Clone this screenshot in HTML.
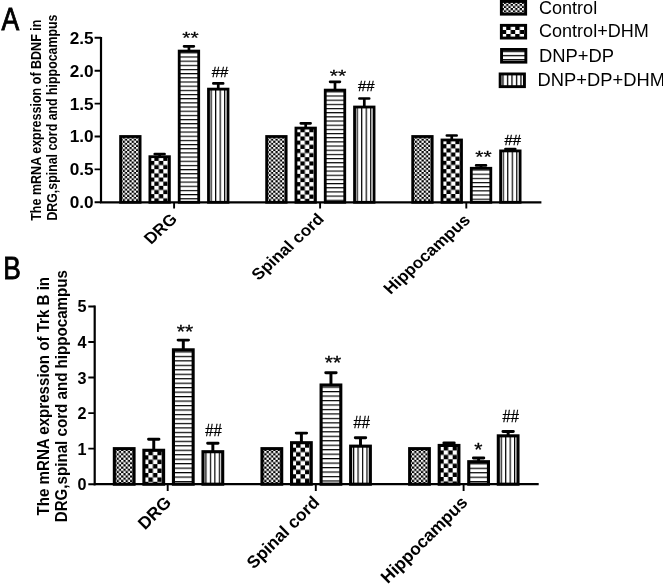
<!DOCTYPE html>
<html><head><meta charset="utf-8"><title>Figure</title>
<style>html,body{margin:0;padding:0;background:#fff;}body{width:663px;height:584px;overflow:hidden;font-family:"Liberation Sans",sans-serif;}svg{display:block;filter:grayscale(1);}text{font-family:"Liberation Sans",sans-serif;fill:#000;}</style>
</head><body>
<svg width="663" height="584" viewBox="0 0 663 584">
<rect x="0" y="0" width="663" height="584" fill="#fff"/>
<defs>
<pattern id="aF" patternUnits="userSpaceOnUse" x="3.5" y="3.55" width="4.47" height="4.16"><rect width="4.47" height="4.16" fill="#fff"/><rect x="2.23" y="0" width="2.23" height="2.08" fill="#000"/><rect x="0" y="2.08" width="2.23" height="2.08" fill="#000"/></pattern>
<pattern id="aB" patternUnits="userSpaceOnUse" x="5.85" y="5.6" width="8.94" height="8.31"><rect width="8.94" height="8.31" fill="#fff"/><rect x="4.47" y="0" width="4.47" height="4.16" fill="#000"/><rect x="0" y="4.16" width="4.47" height="4.16" fill="#000"/></pattern>
<pattern id="aH" patternUnits="userSpaceOnUse" x="0" y="2.58" width="20" height="4.17"><rect width="20" height="4.17" fill="#fff"/><rect x="0" y="0" width="20" height="1.15" fill="#000"/></pattern>
<pattern id="aV" patternUnits="userSpaceOnUse" x="3.45" y="0" width="4.52" height="20"><rect width="4.52" height="20" fill="#fff"/><rect x="0" y="0" width="1.2" height="20" fill="#000"/></pattern>
<pattern id="bF" patternUnits="userSpaceOnUse" x="3.85" y="3.85" width="4.48" height="4.44"><rect width="4.48" height="4.44" fill="#fff"/><rect x="2.24" y="0" width="2.24" height="2.22" fill="#000"/><rect x="0" y="2.22" width="2.24" height="2.22" fill="#000"/></pattern>
<pattern id="bB" patternUnits="userSpaceOnUse" x="6.06" y="6.54" width="8.98" height="8.84"><rect width="8.98" height="8.84" fill="#fff"/><rect x="4.49" y="0" width="4.49" height="4.42" fill="#000"/><rect x="0" y="4.42" width="4.49" height="4.42" fill="#000"/></pattern>
<pattern id="bH" patternUnits="userSpaceOnUse" x="0" y="3.07" width="20" height="4.47"><rect width="20" height="4.47" fill="#fff"/><rect x="0" y="0" width="20" height="1.2" fill="#000"/></pattern>
<pattern id="bV" patternUnits="userSpaceOnUse" x="3.9" y="0" width="4.47" height="20"><rect width="4.47" height="20" fill="#fff"/><rect x="0" y="0" width="1.2" height="20" fill="#000"/></pattern>
<pattern id="lF" patternUnits="userSpaceOnUse" x="503.9" y="3.85" width="4.5" height="4.24"><rect width="4.5" height="4.24" fill="#fff"/><rect x="2.25" y="0" width="2.25" height="2.12" fill="#000"/><rect x="0" y="2.12" width="2.25" height="2.12" fill="#000"/></pattern>
<pattern id="lB" patternUnits="userSpaceOnUse" x="506.2" y="30" width="9" height="8"><rect width="9" height="8" fill="#fff"/><rect x="4.5" y="0" width="4.5" height="4" fill="#000"/><rect x="0" y="4" width="4.5" height="4" fill="#000"/></pattern>
<pattern id="lH" patternUnits="userSpaceOnUse" x="0" y="54.85" width="20" height="4.1"><rect width="20" height="4.1" fill="#fff"/><rect x="0" y="0" width="20" height="1.3" fill="#000"/></pattern>
<pattern id="lV" patternUnits="userSpaceOnUse" x="506.85" y="0" width="4.5" height="20"><rect width="4.5" height="20" fill="#fff"/><rect x="0" y="0" width="1.3" height="20" fill="#000"/></pattern>
</defs>
<g transform="translate(119.2 135.1)"><rect x="1.4" y="1.4" width="19.5" height="65.8" fill="url(#aF)" stroke="#000" stroke-width="2.8"/></g>
<path d="M159.65 156.7V154M154.75 154H164.55" stroke="#000" stroke-width="2.7" stroke-linecap="round" fill="none"/>
<g transform="translate(148.5 155.3)"><rect x="1.4" y="1.4" width="19.5" height="45.6" fill="url(#aB)" stroke="#000" stroke-width="2.8"/></g>
<path d="M188.95 51.09V46.3M184.05 46.3H193.85" stroke="#000" stroke-width="2.7" stroke-linecap="round" fill="none"/>
<g transform="translate(177.8 49.69)"><rect x="1.4" y="1.4" width="19.5" height="151.21" fill="url(#aH)" stroke="#000" stroke-width="2.8"/></g>
<path d="M218.25 89.12V83.4M213.35 83.4H223.15" stroke="#000" stroke-width="2.7" stroke-linecap="round" fill="none"/>
<g transform="translate(207.1 87.72)"><rect x="1.4" y="1.4" width="19.5" height="113.18" fill="url(#aV)" stroke="#000" stroke-width="2.8"/></g>
<g transform="translate(265.25 135.1)"><rect x="1.4" y="1.4" width="19.5" height="65.8" fill="url(#aF)" stroke="#000" stroke-width="2.8"/></g>
<path d="M305.7 128.08V123.3M300.8 123.3H310.6" stroke="#000" stroke-width="2.7" stroke-linecap="round" fill="none"/>
<g transform="translate(294.55 126.68)"><rect x="1.4" y="1.4" width="19.5" height="74.22" fill="url(#aB)" stroke="#000" stroke-width="2.8"/></g>
<path d="M335 90.11V81.8M330.1 81.8H339.9" stroke="#000" stroke-width="2.7" stroke-linecap="round" fill="none"/>
<g transform="translate(323.85 88.71)"><rect x="1.4" y="1.4" width="19.5" height="112.19" fill="url(#aH)" stroke="#000" stroke-width="2.8"/></g>
<path d="M364.3 107.02V98.5M359.4 98.5H369.2" stroke="#000" stroke-width="2.7" stroke-linecap="round" fill="none"/>
<g transform="translate(353.15 105.62)"><rect x="1.4" y="1.4" width="19.5" height="95.28" fill="url(#aV)" stroke="#000" stroke-width="2.8"/></g>
<g transform="translate(411.3 135.1)"><rect x="1.4" y="1.4" width="19.5" height="65.8" fill="url(#aF)" stroke="#000" stroke-width="2.8"/></g>
<path d="M451.75 139.99V135.5M446.85 135.5H456.65" stroke="#000" stroke-width="2.7" stroke-linecap="round" fill="none"/>
<g transform="translate(440.6 138.59)"><rect x="1.4" y="1.4" width="19.5" height="62.31" fill="url(#aB)" stroke="#000" stroke-width="2.8"/></g>
<path d="M481.05 168.28V165.4M476.15 165.4H485.95" stroke="#000" stroke-width="2.7" stroke-linecap="round" fill="none"/>
<g transform="translate(469.9 166.88)"><rect x="1.4" y="1.4" width="19.5" height="34.02" fill="url(#aH)" stroke="#000" stroke-width="2.8"/></g>
<path d="M510.35 150.91V149M505.45 149H515.25" stroke="#000" stroke-width="2.7" stroke-linecap="round" fill="none"/>
<g transform="translate(499.2 149.51)"><rect x="1.4" y="1.4" width="19.5" height="51.39" fill="url(#aV)" stroke="#000" stroke-width="2.8"/></g>
<path d="M101 36.9V203.5M99.9 202.3H541.4" stroke="#000" stroke-width="2.2" fill="none"/>
<path d="M94.6 202.3H101M94.6 169.4H101M94.6 136.5H101M94.6 103.6H101M94.6 70.7H101M94.6 37.8H101M174.1 202.3V208.6M320.1 202.3V208.6M466.3 202.3V208.6" stroke="#000" stroke-width="1.9" fill="none"/>
<text transform="translate(93.6 208.2) scale(1.05 1.0)" font-size="16.4" font-weight="bold" text-anchor="end">0.0</text>
<text transform="translate(93.6 175.3) scale(1.05 1.0)" font-size="16.4" font-weight="bold" text-anchor="end">0.5</text>
<text transform="translate(93.6 142.4) scale(1.05 1.0)" font-size="16.4" font-weight="bold" text-anchor="end">1.0</text>
<text transform="translate(93.6 109.5) scale(1.05 1.0)" font-size="16.4" font-weight="bold" text-anchor="end">1.5</text>
<text transform="translate(93.6 76.6) scale(1.05 1.0)" font-size="16.4" font-weight="bold" text-anchor="end">2.0</text>
<text transform="translate(93.6 43.7) scale(1.05 1.0)" font-size="16.4" font-weight="bold" text-anchor="end">2.5</text>
<text transform="translate(190.5 44.05) scale(1.08 0.85)" font-size="19.5" text-anchor="middle" stroke="#000" stroke-width="0.3">**</text>
<text transform="translate(220.1 77.2) scale(0.885 0.845)" font-size="16.8" text-anchor="middle" stroke="#000" stroke-width="0.3">##</text>
<text transform="translate(338 81.55) scale(1.08 0.85)" font-size="19.5" text-anchor="middle" stroke="#000" stroke-width="0.3">**</text>
<text transform="translate(366.2 91.2) scale(0.885 0.845)" font-size="16.8" text-anchor="middle" stroke="#000" stroke-width="0.3">##</text>
<text transform="translate(483.4 162.65) scale(1.08 0.85)" font-size="19.5" text-anchor="middle" stroke="#000" stroke-width="0.3">**</text>
<text transform="translate(512.7 144.8) scale(0.885 0.845)" font-size="16.8" text-anchor="middle" stroke="#000" stroke-width="0.3">##</text>
<text transform="translate(178.2 220.1) scale(1 0.915) rotate(-45)" font-size="17.3" font-weight="bold" text-anchor="end">DRG</text>
<text transform="translate(325.1 220) scale(1 0.915) rotate(-45)" font-size="17.3" font-weight="bold" text-anchor="end">Spinal cord</text>
<text transform="translate(471.3 221) scale(1 0.915) rotate(-45)" font-size="17.3" font-weight="bold" text-anchor="end">Hippocampus</text>
<text transform="translate(41.1 220.8) rotate(-90)" font-size="14.2" font-weight="bold" textLength="201.2" lengthAdjust="spacingAndGlyphs">The mRNA expression of BDNF in</text>
<text transform="translate(57.2 220.6) rotate(-90)" font-size="14.2" font-weight="bold" textLength="206" lengthAdjust="spacingAndGlyphs">DRG,spinal cord and hippocampus</text>
<g transform="translate(112.8 447.1)"><rect x="1.55" y="1.55" width="19.7" height="35.55" fill="url(#bF)" stroke="#000" stroke-width="3.1"/></g>
<path d="M153.75 450.29V439.3M148.55 439.3H158.95" stroke="#000" stroke-width="2.95" stroke-linecap="round" fill="none"/>
<g transform="translate(142.35 448.74)"><rect x="1.55" y="1.55" width="19.7" height="33.91" fill="url(#bB)" stroke="#000" stroke-width="3.1"/></g>
<path d="M183.3 349.82V340.1M178.1 340.1H188.5" stroke="#000" stroke-width="2.95" stroke-linecap="round" fill="none"/>
<g transform="translate(171.9 348.27)"><rect x="1.55" y="1.55" width="19.7" height="134.38" fill="url(#bH)" stroke="#000" stroke-width="3.1"/></g>
<path d="M212.85 451.71V443.2M207.65 443.2H218.05" stroke="#000" stroke-width="2.95" stroke-linecap="round" fill="none"/>
<g transform="translate(201.45 450.16)"><rect x="1.55" y="1.55" width="19.7" height="32.49" fill="url(#bV)" stroke="#000" stroke-width="3.1"/></g>
<g transform="translate(260.45 447.1)"><rect x="1.55" y="1.55" width="19.7" height="35.55" fill="url(#bF)" stroke="#000" stroke-width="3.1"/></g>
<path d="M301.4 442.71V433.1M296.2 433.1H306.6" stroke="#000" stroke-width="2.95" stroke-linecap="round" fill="none"/>
<g transform="translate(290 441.16)"><rect x="1.55" y="1.55" width="19.7" height="41.49" fill="url(#bB)" stroke="#000" stroke-width="3.1"/></g>
<path d="M330.95 385.02V372.8M325.75 372.8H336.15" stroke="#000" stroke-width="2.95" stroke-linecap="round" fill="none"/>
<g transform="translate(319.55 383.47)"><rect x="1.55" y="1.55" width="19.7" height="99.18" fill="url(#bH)" stroke="#000" stroke-width="3.1"/></g>
<path d="M360.5 446.16V437.8M355.3 437.8H365.7" stroke="#000" stroke-width="2.95" stroke-linecap="round" fill="none"/>
<g transform="translate(349.1 444.61)"><rect x="1.55" y="1.55" width="19.7" height="38.04" fill="url(#bV)" stroke="#000" stroke-width="3.1"/></g>
<g transform="translate(408.1 447.1)"><rect x="1.55" y="1.55" width="19.7" height="35.55" fill="url(#bF)" stroke="#000" stroke-width="3.1"/></g>
<path d="M449.05 445.45V443M443.85 443H454.25" stroke="#000" stroke-width="2.95" stroke-linecap="round" fill="none"/>
<g transform="translate(437.65 443.9)"><rect x="1.55" y="1.55" width="19.7" height="38.75" fill="url(#bB)" stroke="#000" stroke-width="3.1"/></g>
<path d="M478.6 461.7V458M473.4 458H483.8" stroke="#000" stroke-width="2.95" stroke-linecap="round" fill="none"/>
<g transform="translate(467.2 460.15)"><rect x="1.55" y="1.55" width="19.7" height="22.5" fill="url(#bH)" stroke="#000" stroke-width="3.1"/></g>
<path d="M508.15 435.85V431.4M502.95 431.4H513.35" stroke="#000" stroke-width="2.95" stroke-linecap="round" fill="none"/>
<g transform="translate(496.75 434.3)"><rect x="1.55" y="1.55" width="19.7" height="48.35" fill="url(#bV)" stroke="#000" stroke-width="3.1"/></g>
<path d="M94.7 305.55V485.4M93.6 484.2H538.7" stroke="#000" stroke-width="2.2" fill="none"/>
<path d="M88.3 484.2H94.7M88.3 448.65H94.7M88.3 413.1H94.7M88.3 377.55H94.7M88.3 342H94.7M88.3 306.45H94.7M167.7 484.2V491M315.8 484.2V491M463.6 484.2V491" stroke="#000" stroke-width="1.9" fill="none"/>
<text transform="translate(86.5 490.2) scale(1.0 1.0)" font-size="16.2" font-weight="bold" text-anchor="end">0</text>
<text transform="translate(86.5 454.65) scale(1.0 1.0)" font-size="16.2" font-weight="bold" text-anchor="end">1</text>
<text transform="translate(86.5 419.1) scale(1.0 1.0)" font-size="16.2" font-weight="bold" text-anchor="end">2</text>
<text transform="translate(86.5 383.55) scale(1.0 1.0)" font-size="16.2" font-weight="bold" text-anchor="end">3</text>
<text transform="translate(86.5 348) scale(1.0 1.0)" font-size="16.2" font-weight="bold" text-anchor="end">4</text>
<text transform="translate(86.5 312.45) scale(1.0 1.0)" font-size="16.2" font-weight="bold" text-anchor="end">5</text>
<text transform="translate(184.9 337.82) scale(1.08 0.93)" font-size="19.5" text-anchor="middle" stroke="#000" stroke-width="0.3">**</text>
<text transform="translate(213.5 435.7) scale(0.88 1.0)" font-size="16.8" text-anchor="middle" stroke="#000" stroke-width="0.3">##</text>
<text transform="translate(332.9 369.42) scale(1.08 0.93)" font-size="19.5" text-anchor="middle" stroke="#000" stroke-width="0.3">**</text>
<text transform="translate(361.65 427.7) scale(0.88 1.0)" font-size="16.8" text-anchor="middle" stroke="#000" stroke-width="0.3">##</text>
<text transform="translate(478.3 456.42) scale(1.08 0.93)" font-size="19.5" text-anchor="middle" stroke="#000" stroke-width="0.3">*</text>
<text transform="translate(510.75 421.5) scale(0.88 1.0)" font-size="16.8" text-anchor="middle" stroke="#000" stroke-width="0.3">##</text>
<text transform="translate(172.2 503.4) scale(1 1.0) rotate(-45)" font-size="17.3" font-weight="bold" text-anchor="end">DRG</text>
<text transform="translate(320.4 503.2) scale(1 1.0) rotate(-45)" font-size="17.3" font-weight="bold" text-anchor="end">Spinal cord</text>
<text transform="translate(468.6 503.4) scale(1 1.0) rotate(-45)" font-size="17.3" font-weight="bold" text-anchor="end">Hippocampus</text>
<text transform="translate(49.3 515.5) rotate(-90)" font-size="15.6" font-weight="bold" textLength="238.6" lengthAdjust="spacingAndGlyphs">The mRNA expression of Trk B in</text>
<text transform="translate(66.7 522.3) rotate(-90)" font-size="15.6" font-weight="bold" textLength="252.3" lengthAdjust="spacingAndGlyphs">DRG,spinal cord and hippocampus</text>
<text transform="translate(1.4 30.3) scale(0.83 1)" font-size="32.0" stroke="#000" stroke-width="0.9">A</text>
<text transform="translate(3.2 278.6) scale(0.85 1)" font-size="31.0" stroke="#000" stroke-width="0.9">B</text>
<rect x="501.35" y="1.45" width="24.3" height="12.7" fill="url(#lF)" stroke="#000" stroke-width="2.9"/>
<text transform="translate(539 13.6) scale(1.02 1)" font-size="17.7">Control</text>
<rect x="501.35" y="25.35" width="24.3" height="12.7" fill="url(#lB)" stroke="#000" stroke-width="2.9"/>
<text transform="translate(539 37.4) scale(1.02 1)" font-size="17.7">Control+DHM</text>
<rect x="501.55" y="49.45" width="24.3" height="12.7" fill="url(#lH)" stroke="#000" stroke-width="2.9"/>
<text transform="translate(539 62.1) scale(1.04 1)" font-size="17.7">DNP+DP</text>
<rect x="500.15" y="73.95" width="24.3" height="12.7" fill="url(#lV)" stroke="#000" stroke-width="2.9"/>
<text transform="translate(537.6 85.6) scale(1.037 1)" font-size="17.7">DNP+DP+DHM</text>
</svg>
</body></html>
